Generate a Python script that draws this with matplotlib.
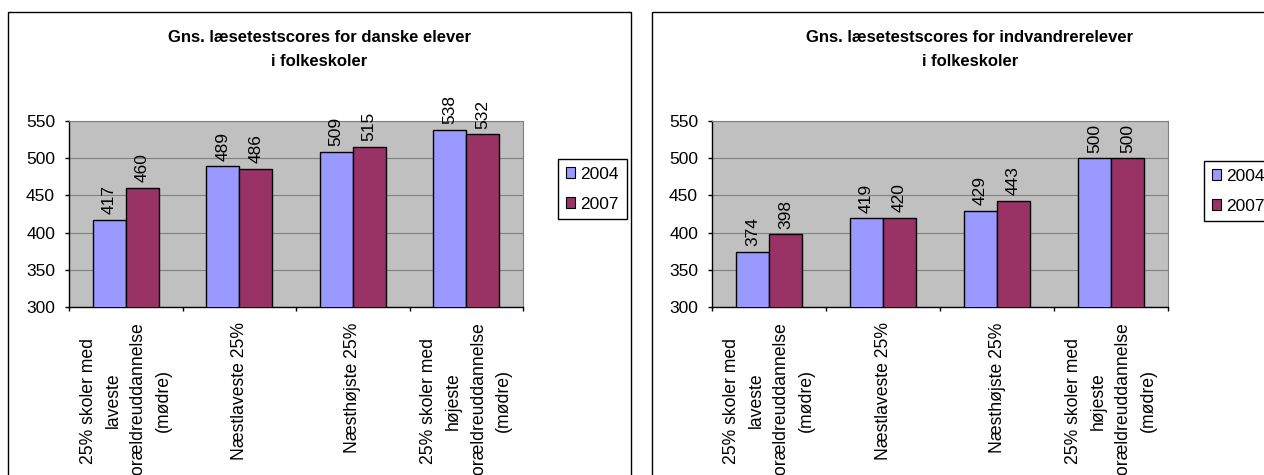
import matplotlib
matplotlib.use("Agg")
import matplotlib.pyplot as plt
from matplotlib.patches import Rectangle, Patch
import numpy as np

plt.rcParams['font.family'] = ['Liberation Sans', 'DejaVu Sans']

categories = [
    "25% skoler med\nlaveste\nforældreuddannelse\n(mødre)",
    "Næstlaveste 25%",
    "Næsthøjste 25%",
    "25% skoler med\nhøjeste\nforældreuddannelse\n(mødre)",
]
years = ["2004", "2007"]

danske_2004 = [417, 489, 509, 538]
danske_2007 = [460, 486, 515, 532]
indvandrer_2004 = [374, 419, 429, 500]
indvandrer_2007 = [398, 420, 443, 500]

titles = [
    "Gns. læsetestscores for danske elever\ni folkeskoler",
    "Gns. læsetestscores for indvandrerelever\ni folkeskoler",
]

W, H = 1264, 475
BLUE = "#9999FF"
RED = "#993366"
PLOT_BG = "#C0C0C0"


def px(x, y):
    # pixel position (from top left) -> figure fraction
    return x / W, 1 - y / H


def draw_chart(fig, box, plot, legend_xy, title, v2004, v2007):
    bx0, by0, bx1 = box
    fig.patches.append(Rectangle(px(bx0, H + 5), (bx1 - bx0) / W, (H + 5 - by0) / H,
                                 transform=fig.transFigure, fill=False,
                                 edgecolor="black", linewidth=1.0))

    x0, y0, x1, y1 = plot
    ax = fig.add_axes([x0 / W, 1 - y1 / H, (x1 - x0) / W, (y1 - y0) / H])
    ax.set_facecolor(PLOT_BG)

    idx = np.arange(len(categories))
    w = 0.29
    b1 = ax.bar(idx - w / 2, v2004, w, bottom=0, color=BLUE, edgecolor="black", linewidth=1.0, label=years[0], zorder=3)
    b2 = ax.bar(idx + w / 2, v2007, w, bottom=0, color=RED, edgecolor="black", linewidth=1.0, label=years[1], zorder=3)
    for bars in (b1, b2):
        ax.bar_label(bars, rotation=90, padding=4, fontsize=12.5)

    ax.set_ylim(300, 550)
    ax.set_xlim(-0.5, len(categories) - 0.5)
    ax.set_yticks([300, 350, 400, 450, 500, 550])
    ax.tick_params(axis="y", direction="out", length=3, width=1, pad=7, labelsize=12.5)
    ax.yaxis.grid(True, color="#808080", linewidth=0.8, zorder=0)
    ax.set_axisbelow(True)

    ax.set_xticks(np.arange(-0.5, len(categories), 1.0))
    ax.set_xticklabels([])
    ax.tick_params(axis="x", which="major", direction="out", length=3, width=1)
    ax.set_xticks(idx, minor=True)
    ax.set_xticklabels(categories, minor=True, rotation=90, fontsize=12.7,
                       linespacing=1.62, multialignment="center")
    ax.tick_params(axis="x", which="minor", length=0, pad=11)

    for side in ("top", "right"):
        ax.spines[side].set_color("#808080")
        ax.spines[side].set_linewidth(0.8)
    for side in ("left", "bottom"):
        ax.spines[side].set_color("black")
        ax.spines[side].set_linewidth(1.0)

    # chart title centred over the box
    tx, ty = px((bx0 + bx1) / 2, 49.5)
    fig.text(tx, ty, title, ha="center", va="center", fontsize=12,
             fontweight="bold", linespacing=1.8)

    handles = [Patch(facecolor=BLUE, edgecolor="black", linewidth=0.8),
               Patch(facecolor=RED, edgecolor="black", linewidth=0.8)]
    leg = fig.legend(handles, years, loc="upper left", bbox_to_anchor=px(*legend_xy),
                     bbox_transform=fig.transFigure, fontsize=12.5, frameon=True,
                     fancybox=False, framealpha=1, edgecolor="black",
                     handlelength=0.55, handleheight=0.55, handletextpad=0.3,
                     borderpad=0.45, labelspacing=0.85, borderaxespad=0)
    leg.get_frame().set_linewidth(1.0)
    return ax


fig = plt.figure(figsize=(W / 100, H / 100), dpi=100)

draw_chart(fig, (8, 12, 631), (69, 121, 523, 307), (558, 159), titles[0],
           danske_2004, danske_2007)
draw_chart(fig, (652, 12, 1288), (712, 121, 1168, 307), (1204, 161), titles[1],
           indvandrer_2004, indvandrer_2007)

fig.savefig("out.png", dpi=100)
